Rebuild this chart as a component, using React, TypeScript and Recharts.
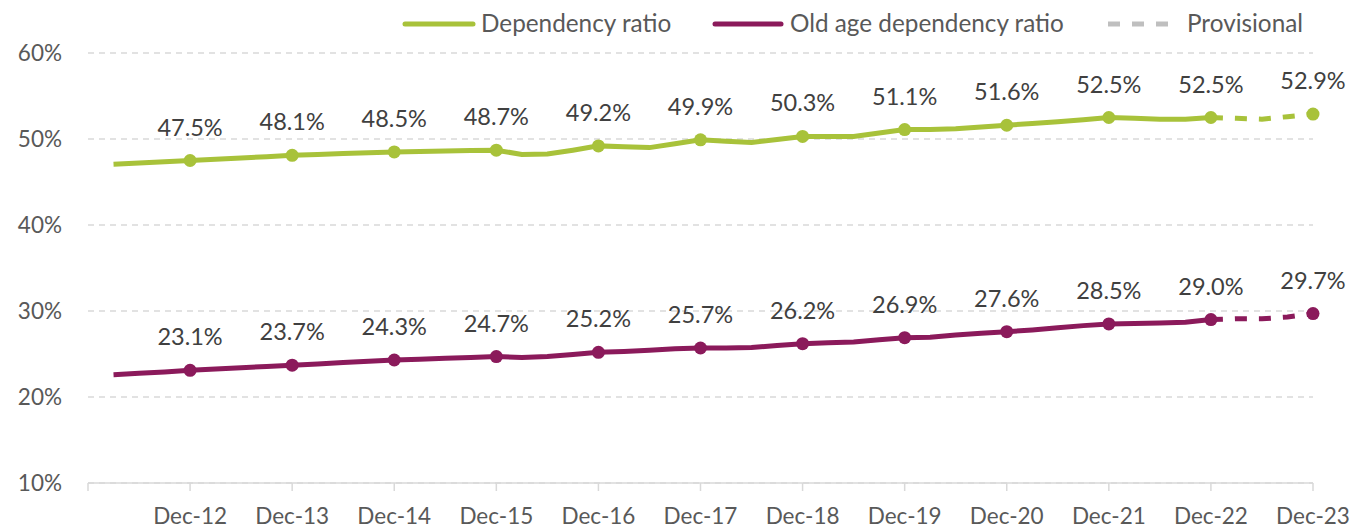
import { CartesianGrid, LabelList, Line, LineChart, XAxis, YAxis } from 'recharts';

// quarterly figures, Mar-12 .. Dec-23 (percent)
const YEARS = ['12', '13', '14', '15', '16', '17', '18', '19', '20', '21', '22', '23'];
const QUARTER_MONTHS = ['Mar', 'Jun', 'Sep', 'Dec'];

const DEPENDENCY = [
  47.06, 47.2, 47.35, 47.5,
  47.65, 47.8, 47.95, 48.1,
  48.2, 48.3, 48.4, 48.5,
  48.55, 48.6, 48.65, 48.7,
  48.2, 48.25, 48.7, 49.2,
  49.1, 49.0, 49.45, 49.9,
  49.75, 49.6, 49.95, 50.3,
  50.3, 50.3, 50.7, 51.1,
  51.1, 51.2, 51.4, 51.6,
  51.8, 52.0, 52.25, 52.5,
  52.4, 52.3, 52.3, 52.5,
  52.4, 52.3, 52.6, 52.9,
];

const OLD_AGE = [
  22.6, 22.75, 22.9, 23.1,
  23.25, 23.4, 23.55, 23.7,
  23.85, 24.0, 24.15, 24.3,
  24.4, 24.5, 24.6, 24.7,
  24.6, 24.7, 24.95, 25.2,
  25.3, 25.45, 25.6, 25.7,
  25.7, 25.75, 26.0, 26.2,
  26.3, 26.4, 26.65, 26.9,
  26.95, 27.2, 27.4, 27.6,
  27.8, 28.05, 28.3, 28.5,
  28.55, 28.6, 28.7, 29.0,
  29.1, 29.1, 29.3, 29.7,
];

// Dec-22 is the last final figure, Dec-23 quarters are provisional
const LAST_FINAL = 44;

const Y_TICKS = [10, 20, 30, 40, 50, 60];
const X_TICKS = [0, 4, 8, 12, 16, 20, 24, 28, 32, 36, 40, 44, 48];
const X_TICK_LABELS = ['', 'Dec-12', 'Dec-13', 'Dec-14', 'Dec-15', 'Dec-16', 'Dec-17', 'Dec-18', 'Dec-19', 'Dec-20', 'Dec-21', 'Dec-22', 'Dec-23'];

const GREEN = '#A8C23A';
const PURPLE = '#8B1A5B';
const AXIS_TEXT = '#595959';
const LABEL_TEXT = '#404040';
const GRID = '#D9D9D9';
const FONT = 'Lato, "Open Sans", sans-serif';

const rows = DEPENDENCY.map((dep, i) => {
  const q = i + 1;
  return {
    q,
    label: `${QUARTER_MONTHS[i % 4]}-${YEARS[Math.floor(i / 4)]}`,
    dep: q <= LAST_FINAL ? dep : null,
    depProv: q >= LAST_FINAL ? dep : null,
    old: q <= LAST_FINAL ? OLD_AGE[i] : null,
    oldProv: q >= LAST_FINAL ? OLD_AGE[i] : null,
  };
});

const isDec = (q: number) => q % 4 === 0;

function makeDot(color: string, provisional: boolean) {
  return (p: any) => {
    const q = p.payload?.q;
    const show = p.value != null && isDec(q) && (provisional ? q > LAST_FINAL : true);
    if (!show) return <g key={`d-${p.index}`} />;
    return <circle key={`d-${p.index}`} cx={p.cx} cy={p.cy} r={6.5} fill={color} stroke="none" />;
  };
}

function makeLabel(provisional: boolean) {
  return (p: any) => {
    const q = Number(p.index) + 1;
    if (p.value == null || !isDec(q)) return null;
    if (provisional && q <= LAST_FINAL) return null;
    return (
      <text
        x={p.x}
        y={Number(p.y) - 25}
        textAnchor="middle"
        fill={LABEL_TEXT}
        fontSize={23.5}
        fontFamily={FONT}
      >
        {`${Number(p.value).toFixed(1)}%`}
      </text>
    );
  };
}

function ChartLegend() {
  const text = { position: 'absolute' as const, top: 8, fontSize: 24.3, color: AXIS_TEXT, fontFamily: FONT, lineHeight: '30px' };
  return (
    <>
      <svg style={{ position: 'absolute', left: 0, top: 0 }} width={1364} height={50}>
        <line x1={405} y1={24} x2={473} y2={24} stroke={GREEN} strokeWidth={5} strokeLinecap="round" />
        <line x1={715} y1={24} x2={781} y2={24} stroke={PURPLE} strokeWidth={5} strokeLinecap="round" />
        <line x1={1108} y1={24} x2={1172} y2={24} stroke="#BFBFBF" strokeWidth={5} strokeDasharray="12 12" />
      </svg>
      <div style={{ ...text, left: 481 }}>Dependency ratio</div>
      <div style={{ ...text, left: 790 }}>Old age dependency ratio</div>
      <div style={{ ...text, left: 1187 }}>Provisional</div>
    </>
  );
}

export default function App() {
  return (
    <div style={{ position: 'absolute', left: 0, top: 0, width: 1364, height: 528, background: '#fff' }}>
      <LineChart width={1364} height={528} data={rows} margin={{ top: 53, right: 51, bottom: 0, left: 28 }}>
        <CartesianGrid horizontal vertical={false} stroke={GRID} strokeWidth={1.5} strokeDasharray="6 5" />
        <XAxis
          dataKey="q"
          type="number"
          domain={[0, 48]}
          ticks={X_TICKS}
          tickFormatter={(v: number) => X_TICK_LABELS[v / 4]}
          interval={0}
          height={45}
          tickSize={8}
          tickMargin={17}
          axisLine={{ stroke: GRID, strokeWidth: 1.5 }}
          tickLine={{ stroke: GRID, strokeWidth: 1.5 }}
          tick={{ fill: AXIS_TEXT, fontSize: 22.5, fontFamily: FONT }}
        />
        <YAxis
          type="number"
          domain={[10, 60]}
          ticks={Y_TICKS}
          interval={0}
          width={60}
          axisLine={false}
          tickLine={false}
          tickSize={0}
          tickMargin={26}
          tickFormatter={(v: number) => `${v}%`}
          tick={{ fill: AXIS_TEXT, fontSize: 22.5, fontFamily: FONT }}
        />
        <Line dataKey="dep" stroke={GREEN} strokeWidth={5} type="linear" dot={makeDot(GREEN, false)} activeDot={false} isAnimationActive={false} connectNulls={false}>
          <LabelList dataKey="dep" content={makeLabel(false)} />
        </Line>
        <Line dataKey="depProv" stroke={GREEN} strokeWidth={5} strokeDasharray="12 12" type="linear" dot={makeDot(GREEN, true)} activeDot={false} isAnimationActive={false}>
          <LabelList dataKey="depProv" content={makeLabel(true)} />
        </Line>
        <Line dataKey="old" stroke={PURPLE} strokeWidth={5} type="linear" dot={makeDot(PURPLE, false)} activeDot={false} isAnimationActive={false}>
          <LabelList dataKey="old" content={makeLabel(false)} />
        </Line>
        <Line dataKey="oldProv" stroke={PURPLE} strokeWidth={5} strokeDasharray="12 12" type="linear" dot={makeDot(PURPLE, true)} activeDot={false} isAnimationActive={false}>
          <LabelList dataKey="oldProv" content={makeLabel(true)} />
        </Line>
      </LineChart>
      <ChartLegend />
    </div>
  );
}
